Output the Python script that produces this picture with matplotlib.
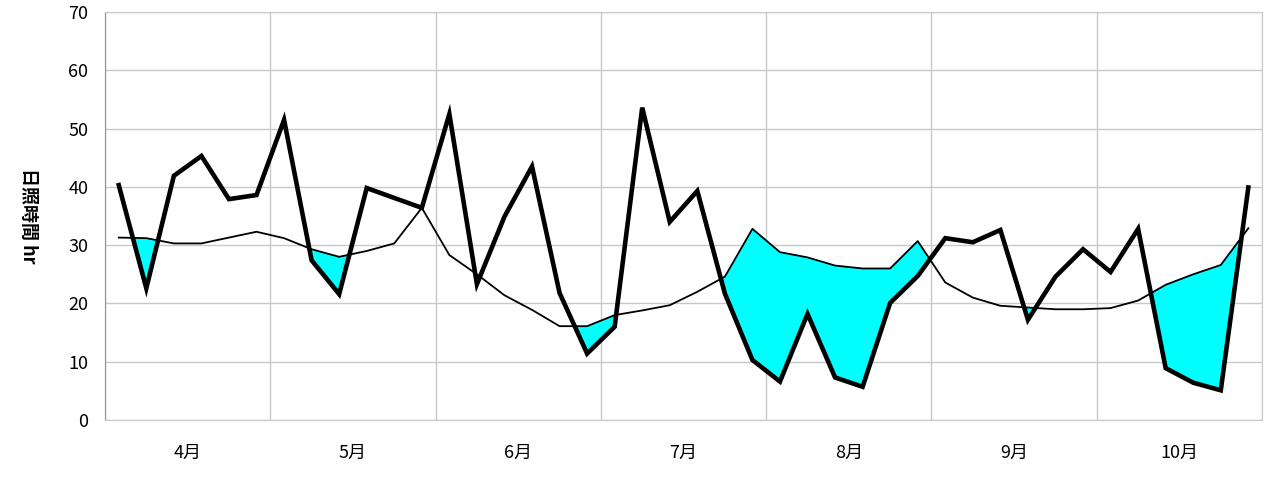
import matplotlib.pyplot as plt
import numpy as np

# data: 5-day sunshine hours, Apr-Oct (6 per month)
months = ['4月', '5月', '6月', '7月', '8月', '9月', '10月']
actual = [40.3, 22.6, 41.9, 45.3, 37.9, 38.6, 51.5, 27.4, 21.6, 39.8,
          38.1, 36.4, 52.5, 23.3, 34.9, 43.5, 21.8, 11.4, 16.0, 53.6,
          34.0, 39.3, 21.7, 10.3, 6.6, 18.2, 7.3, 5.7, 20.1, 24.7,
          31.2, 30.5, 32.6, 17.2, 24.6, 29.3, 25.4, 32.8, 8.9, 6.4,
          5.1, 39.9]
normal = [31.3, 31.2, 30.3, 30.3, 31.3, 32.3, 31.2, 29.3, 28.0, 29.0,
          30.3, 36.4, 28.3, 25.0, 21.4, 18.9, 16.1, 16.1, 18.0, 18.8,
          19.7, 22.0, 24.6, 32.8, 28.8, 27.9, 26.5, 26.0, 26.0, 30.7,
          23.6, 21.0, 19.6, 19.3, 19.0, 19.0, 19.2, 20.5, 23.2, 25.0,
          26.6, 32.9]

plt.rcParams['font.family'] = ['Noto Sans CJK JP', 'DejaVu Sans']

x = np.arange(len(actual)) + 0.5
a = np.array(actual)
n = np.array(normal)

fig = plt.figure(figsize=(12.71, 4.83), dpi=100)
ax = fig.add_axes([0.0826, 0.1304, 0.9104, 0.8447])

ax.fill_between(x, a, n, where=a < n, interpolate=True, color='#00ffff', lw=0)
ax.plot(x, n, color='black', lw=1.3)
ax.plot(x, a, color='black', lw=3.3, solid_joinstyle='miter')

ax.set_xlim(0, 42)
ax.set_ylim(0, 70)
ax.set_yticks(np.arange(0, 71, 10))
ax.set_xticks(np.arange(3, 42, 6))
ax.set_xticklabels(months)
ax.set_xticks(np.arange(0, 43, 6), minor=True)
ax.grid(which='minor', axis='x', color='#c8c8c8', lw=1)
ax.grid(which='major', axis='y', color='#c8c8c8', lw=1)
ax.tick_params(which='both', length=0, labelsize=13)
ax.tick_params(axis='x', pad=17)
ax.tick_params(axis='y', pad=12)
ax.set_axisbelow(True)
for s in ax.spines.values():
    s.set_color('#c8c8c8')
ax.spines['left'].set_color('#909090')

ax.set_ylabel('日照時間 hr', rotation=270, fontsize=13, fontweight='bold')
ax.yaxis.set_label_coords(-0.074, 0.5)

plt.savefig('out.png', dpi=100)
